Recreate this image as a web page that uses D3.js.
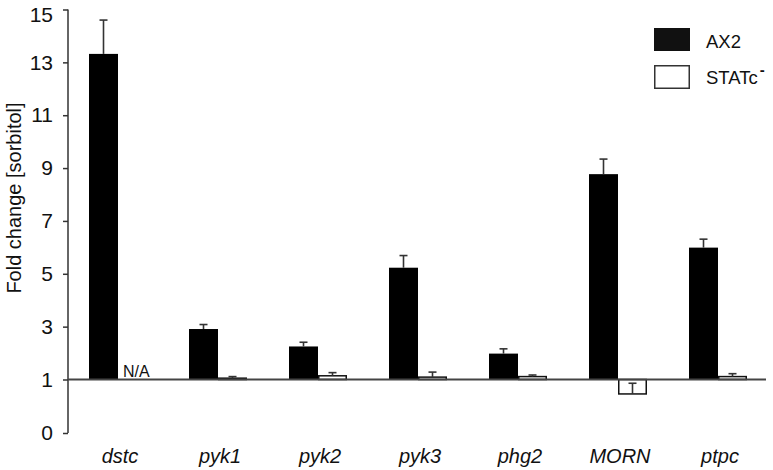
<!DOCTYPE html>
<html lang="en">
<head>
    <meta charset="UTF-8">
    <title>Fold change [sorbitol]</title>
    <script type="application/javascript" src="https://cdnjs.cloudflare.com/ajax/libs/d3/7.8.5/d3.min.js"></script>
    <style type="text/css">
        body { margin: 0; background: #fff; }
        svg text { font-family: "Liberation Sans", Arial, sans-serif; fill: #111; }
        .axis path, .axis line { stroke: #333; stroke-width: 1.5; }
        .axis text { font-size: 21px; }
    </style>
</head>
<body>
<svg id="chart" width="773" height="470"></svg>
<script type="application/javascript">
    // values (fold change, error = +SD)
    var categories = ['dstc', 'pyk1', 'pyk2', 'pyk3', 'phg2', 'MORN', 'ptpc'];
    var series = ['AX2', 'STATc'];
    var ax2Values = [13.32, 2.91, 2.25, 5.23, 1.98, 8.77, 5.99];
    var ax2Errors = [1.28, 0.17, 0.16, 0.46, 0.18, 0.57, 0.32];
    var statcValues = [null, 1.05, 1.14, 1.09, 1.11, 0.73, 1.11];
    var statcErrors = [null, 0.06, 0.12, 0.19, 0.06, 0.20, 0.11];
    var yTicks = [0, 1, 3, 5, 7, 9, 11, 13, 15];

    (function () {
        var svg = d3.select('#chart');
        var axisX = 68, axisRight = 768;

        // broken axis: 0..1 gets as much room as 1..3
        var y = d3.scaleLinear()
                .domain([0, 1, 15])
                .range([433, 379.5, 9.5]);

        var x = d3.scaleBand()
                .domain(categories)
                .range([axisX, axisRight])
                .paddingInner(0.42)
                .paddingOuter(0.21);

        var xs = d3.scaleBand()
                .domain(series)
                .range([0, x.bandwidth()]);

        var rows = categories.map(function (c, i) {
            return [
                {cat: c, key: 'AX2', value: ax2Values[i], err: ax2Errors[i]},
                {cat: c, key: 'STATc', value: statcValues[i], err: statcErrors[i]}
            ];
        });
        var bars = [].concat.apply([], rows).filter(function (d) { return d.value !== null; });

        // y axis
        var yAxisG = svg.append('g')
                .attr('class', 'axis')
                .attr('transform', 'translate(' + axisX + ',0)')
                .call(d3.axisLeft(y).tickValues(yTicks).tickSize(5).tickSizeOuter(0).tickPadding(10)
                        .tickFormat(d3.format('d')));
        yAxisG.select('.domain').attr('d', 'M0,' + y(15) + 'V' + y(0));
        // top label sits a bit lower so it is not clipped
        yAxisG.selectAll('.tick text')
                .filter(function (d) { return d === 15; })
                .attr('dy', '0.55em');

        svg.append('text')
                .attr('text-anchor', 'middle')
                .attr('font-size', '20px')
                .attr('transform', 'translate(21,' + 198 + ')rotate(-90)')
                .text('Fold change [sorbitol]');

        // bars
        svg.append('g').selectAll('rect')
                .data(bars)
                .enter().append('rect')
                .attr('x', function (d) { return x(d.cat) + xs(d.key) + (d.key === 'STATc' ? 0.75 : 0); })
                .attr('width', function (d) { return xs.bandwidth() - (d.key === 'STATc' ? 1.5 : 0); })
                .attr('y', function (d) { return Math.min(y(d.value), y(1)); })
                .attr('height', function (d) { return Math.abs(y(d.value) - y(1)); })
                .attr('fill', function (d) { return d.key === 'AX2' ? '#000' : '#fff'; })
                .attr('stroke', function (d) { return d.key === 'AX2' ? 'none' : '#111'; })
                .attr('stroke-width', 1.5);

        // error bars
        var eb = svg.append('g')
                .attr('stroke', '#333')
                .attr('stroke-width', 1.6)
                .selectAll('g')
                .data(bars)
                .enter().append('g')
                .attr('transform', function (d) {
                    return 'translate(' + (x(d.cat) + xs(d.key) + xs.bandwidth() / 2) + ',0)';
                });
        eb.append('line')
                .attr('y1', function (d) { return y(d.value); })
                .attr('y2', function (d) { return y(d.value + d.err); });
        eb.append('line')
                .attr('x1', -4).attr('x2', 4)
                .attr('y1', function (d) { return y(d.value + d.err); })
                .attr('y2', function (d) { return y(d.value + d.err); });

        // baseline at 1
        svg.append('line')
                .attr('x1', axisX).attr('x2', axisRight - 2)
                .attr('y1', y(1)).attr('y2', y(1))
                .attr('stroke', '#444')
                .attr('stroke-width', 2);

        svg.append('text')
                .attr('x', x('dstc') + xs('STATc') + 5)
                .attr('y', y(1) - 3)
                .attr('font-size', '16px')
                .text('N/A');

        // category labels
        svg.append('g').selectAll('text')
                .data(categories)
                .enter().append('text')
                .attr('x', function (d) { return x(d) + x.bandwidth() / 2 + 2; })
                .attr('y', 463)
                .attr('text-anchor', 'middle')
                .attr('font-size', '20px')
                .attr('font-style', 'italic')
                .text(function (d) { return d; });

        // legend
        var legend = svg.append('g').attr('transform', 'translate(654,28)');
        legend.append('rect')
                .attr('width', 36).attr('height', 23)
                .attr('fill', '#111');
        legend.append('rect')
                .attr('x', 0.75).attr('y', 37.75)
                .attr('width', 34.5).attr('height', 22.5)
                .attr('fill', '#fff').attr('stroke', '#333').attr('stroke-width', 1.5);
        legend.append('text')
                .attr('x', 52).attr('y', 20)
                .attr('font-size', '18.5px')
                .text('AX2');
        var statT = legend.append('text')
                .attr('x', 52).attr('y', 55.5)
                .attr('font-size', '18.5px')
                .text('STATc');
        statT.append('tspan')
                .attr('dy', -9)
                .attr('dx', 2)
                .attr('font-size', '15px')
                .attr('font-weight', 'bold')
                .text('-');
    })();
</script>
</body>
</html>
